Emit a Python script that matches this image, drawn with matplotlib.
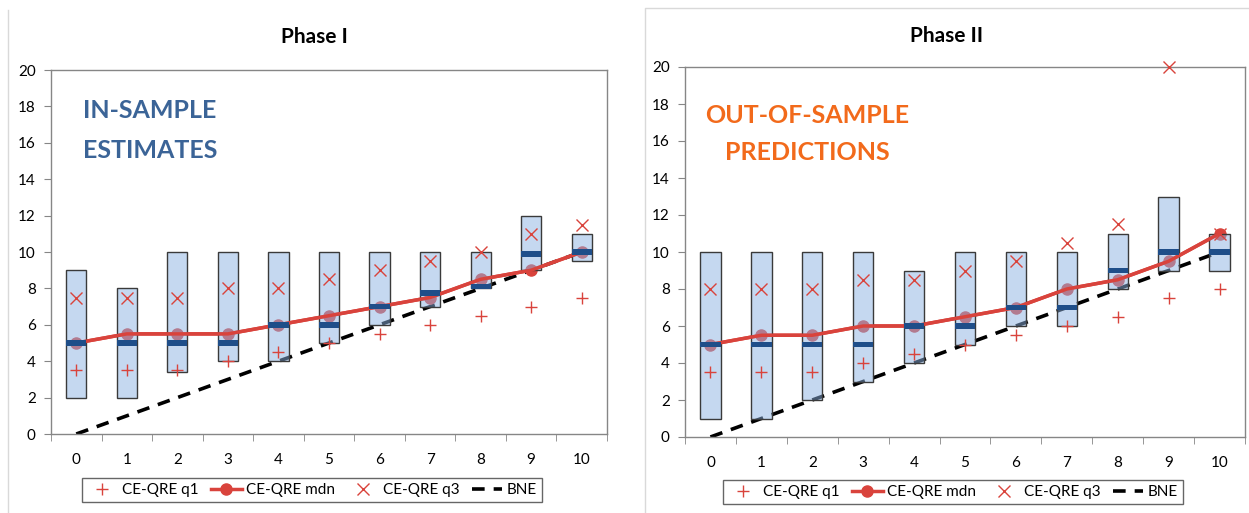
import numpy as np
import matplotlib.pyplot as plt
from matplotlib.lines import Line2D

plt.rcParams['font.family'] = ['Lato', 'DejaVu Sans']

# categories
cats = list(range(11))

# Phase I (in-sample)
p1_box_lo = [2, 2, 3.4, 4, 4, 5, 6, 7, 8, 9, 9.5]
p1_box_hi = [9, 8, 10, 10, 10, 10, 10, 10, 10, 12, 11]
p1_box_med = [5, 5, 5, 5, 6, 6, 7, 7.75, 8.1, 9.9, 10]
p1_q1 = [3.5, 3.5, 3.5, 4, 4.5, 5, 5.5, 6, 6.5, 7, 7.5]
p1_mdn = [5, 5.5, 5.5, 5.5, 6, 6.5, 7, 7.5, 8.5, 9, 10]
p1_q3 = [7.5, 7.5, 7.5, 8, 8, 8.5, 9, 9.5, 10, 11, 11.5]

# Phase II (out-of-sample)
p2_box_lo = [1, 1, 2, 3, 4, 5, 6, 6, 8, 9, 9]
p2_box_hi = [10, 10, 10, 10, 9, 10, 10, 10, 11, 13, 11]
p2_box_med = [5, 5, 5, 5, 6, 6, 7, 7, 9, 10, 10]
p2_q1 = [3.5, 3.5, 3.5, 4, 4.5, 5, 5.5, 6, 6.5, 7.5, 8]
p2_mdn = [5, 5.5, 5.5, 6, 6, 6.5, 7, 8, 8.5, 9.5, 11]
p2_q3 = [8, 8, 8, 8.5, 8.5, 9, 9.5, 10.5, 11.5, 20, 11]

bne = list(range(11))

RED = '#d9433c'
BOXFACE = '#8db3e3'   # drawn at alpha 0.5 -> light blue over white
MEDBLUE = '#1f4e89'
AXGRAY = '#868686'

fig = plt.figure(figsize=(12.49, 5.13), dpi=100)

# panel frames (faint chart-area borders)
fig.add_artist(Line2D([8 / 1249, 8 / 1249], [0, 1 - 10 / 513], transform=fig.transFigure,
                      color='#d9d9d9', lw=1))
fig.add_artist(Line2D([645 / 1249, 645 / 1249, 1], [0, 1 - 8 / 513, 1 - 8 / 513],
                      transform=fig.transFigure, color='#d9d9d9', lw=1))

ax1 = fig.add_axes([51 / 1249, 1 - 434 / 513, (607 - 51) / 1249, (434 - 70) / 513])
ax2 = fig.add_axes([685 / 1249, 1 - 437 / 513, (1245 - 685) / 1249, (437 - 67) / 513])


def draw(ax, lo, hi, med, q1, mdn, q3):
    x = np.array(cats)
    lo = np.array(lo)
    hi = np.array(hi)
    med = np.array(med)
    ax.plot(x, bne, '--', color='black', lw=2.6, dashes=(3.5, 2.5), zorder=2, label='BNE')
    ax.plot(x, mdn, '-o', color=RED, lw=2.5, ms=8, zorder=2, label='CE-QRE mdn')
    # boxes: translucent face, opaque outline
    ax.bar(x, hi - lo, bottom=lo, width=0.4, color=BOXFACE, lw=0, alpha=0.5, zorder=3)
    ax.bar(x, hi - lo, bottom=lo, width=0.4, fill=False, edgecolor='#3a3a3a', lw=1,
           zorder=3.2)
    ax.plot(x, mdn, '-', color=RED, lw=2.5, zorder=3.5)
    ax.bar(x, 0.3, bottom=med - 0.15, width=0.4, color=MEDBLUE, lw=0, zorder=4)
    ax.plot(x, q1, '+', color=RED, ms=9, mew=1, ls='none', zorder=5, label='CE-QRE q1',
            clip_on=False)
    ax.plot(x, q3, 'x', color=RED, ms=8, mew=1, ls='none', zorder=5, label='CE-QRE q3',
            clip_on=False)

    ax.set_xlim(-0.5, 10.5)
    ax.set_ylim(0, 20)
    ax.set_yticks(range(0, 21, 2))
    ax.set_xticks(cats)
    ax.set_xticks(np.arange(-0.5, 11, 1), minor=True)
    ax.tick_params(axis='x', which='major', length=0, pad=14, labelsize=11)
    ax.tick_params(axis='x', which='minor', length=5, color=AXGRAY, direction='out')
    ax.tick_params(axis='y', length=5, color=AXGRAY, direction='out', labelsize=11, pad=6)
    for s in ax.spines.values():
        s.set_color(AXGRAY)
        s.set_linewidth(1)


draw(ax1, p1_box_lo, p1_box_hi, p1_box_med, p1_q1, p1_mdn, p1_q3)
draw(ax2, p2_box_lo, p2_box_hi, p2_box_med, p2_q1, p2_mdn, p2_q3)

# annotations
ax1.text(0.13, 17.8, 'IN-SAMPLE', color='#3b6497', fontsize=18, fontweight='bold',
         ha='left', va='center')
ax1.text(0.13, 15.6, 'ESTIMATES', color='#3b6497', fontsize=18, fontweight='bold',
         ha='left', va='center')
ax2.text(1.9, 17.4, 'OUT-OF-SAMPLE', color='#f26a1b', fontsize=18, fontweight='bold',
         ha='center', va='center')
ax2.text(1.9, 15.4, 'PREDICTIONS', color='#f26a1b', fontsize=18, fontweight='bold',
         ha='center', va='center')

# titles
fig.text(314 / 1249, 1 - 37 / 513, 'Phase I', ha='center', va='center',
         fontsize=15, fontweight='bold')
fig.text(947 / 1249, 1 - 36 / 513, 'Phase II', ha='center', va='center',
         fontsize=15, fontweight='bold')

# legends
order = ['CE-QRE q1', 'CE-QRE mdn', 'CE-QRE q3', 'BNE']
for ax, cx, cy in [(ax1, 312 / 1249, 1 - 490 / 513), (ax2, 953 / 1249, 1 - 492 / 513)]:
    h, l = ax.get_legend_handles_labels()
    d = dict(zip(l, h))
    leg = fig.legend([d[k] for k in order], order, loc='center', bbox_to_anchor=(cx, cy),
                     ncol=4, frameon=True, fancybox=False, fontsize=11,
                     handlelength=2.0, columnspacing=0.8, borderpad=0.35,
                     handletextpad=0.3)
    leg.get_frame().set_edgecolor('#404040')
    leg.get_frame().set_linewidth(1)

fig.savefig('out.png', dpi=100)
